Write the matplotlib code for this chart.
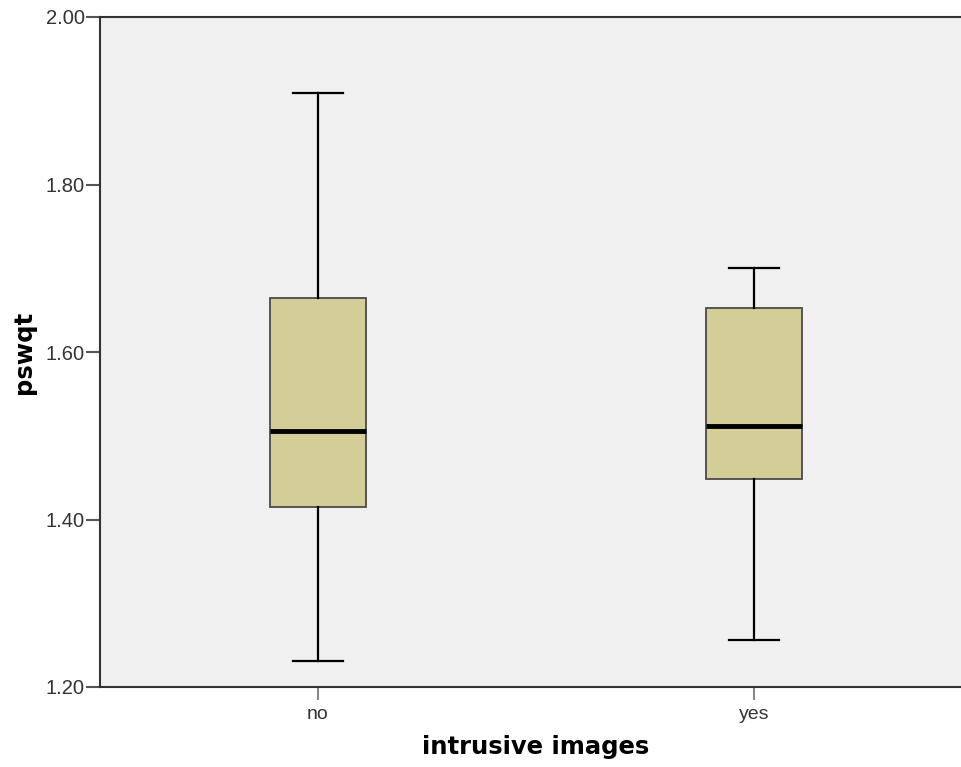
import matplotlib
matplotlib.use("Agg")
import matplotlib.pyplot as plt

# pswqt by intrusive images
groups = ["no", "yes"]
whisker_low = [1.231, 1.256]
q1 = [1.415, 1.448]
median = [1.506, 1.512]
q3 = [1.664, 1.653]
whisker_high = [1.909, 1.700]

yticks = [1.20, 1.40, 1.60, 1.80, 2.00]

plt.rcParams['font.family'] = ['Liberation Sans', 'DejaVu Sans']

fig = plt.figure(figsize=(9.62, 7.67), dpi=100)
ax = fig.add_axes([100/962, 80/767, 872/962, 670/767])
ax.set_facecolor('#f0f0f0')

stats = []
for i, g in enumerate(groups):
    stats.append({'label': g, 'whislo': whisker_low[i], 'q1': q1[i], 'med': median[i],
                  'q3': q3[i], 'whishi': whisker_high[i], 'fliers': []})

ax.bxp(stats, positions=range(len(groups)), widths=0.22, patch_artist=True,
       showfliers=False,
       boxprops=dict(facecolor='#d3ce97', edgecolor='#4a4a4a', linewidth=1.3),
       medianprops=dict(color='black', linewidth=3.5, solid_capstyle='butt'),
       whiskerprops=dict(color='black', linewidth=1.6),
       capprops=dict(color='black', linewidth=1.6),
       capwidths=0.115)

ax.set_xlim(-0.5, 1.5)
ax.set_ylim(1.2, 2.0)
ax.set_yticks(yticks)
ax.set_yticklabels([f"{t:.2f}" for t in yticks])
ax.set_xticks(range(len(groups)))
ax.set_xticklabels(groups)

ax.tick_params(axis='y', length=10, width=1.5, color='#555555', labelsize=14.5,
               labelcolor='#333333', pad=1)
ax.tick_params(axis='x', length=9.5, width=1.5, color='#888888', labelsize=14,
               labelcolor='#333333', pad=4)

for side in ['left', 'bottom', 'top', 'right']:
    ax.spines[side].set_color('#333333')
    ax.spines[side].set_linewidth(1.5)

ax.set_xlabel('intrusive images', fontsize=17.5, fontweight='bold', labelpad=9,
              family='DejaVu Sans')
ax.set_ylabel('pswqt', fontsize=17.5, fontweight='bold', labelpad=7,
              family='DejaVu Sans')

plt.savefig('out.png', dpi=100)
